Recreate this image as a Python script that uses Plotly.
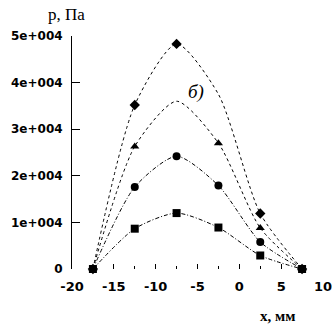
import plotly.graph_objects as go

x_mm = [-17.5, -12.5, -7.5, -2.5, 2.5, 7.5]

# pressure series (Pa)
p_diamond = [0, 35200, 48300, 37500, 11900, 0]
p_triangle = [0, 26300, 36000, 27000, 8800, 0]
p_circle = [0, 17600, 24200, 17900, 5800, 0]
p_square = [0, 8650, 12000, 8900, 2900, 0]

# which points carry a visible marker
show_diamond = [True, True, True, False, True, True]
show_triangle = [True, True, False, True, True, True]
show_circle = [True, True, True, True, True, True]
show_square = [True, True, True, True, True, True]

y_tickvals = [0, 10000, 20000, 30000, 40000, 50000]
y_ticktext = ["0", "1e+004", "2e+004", "3e+004", "4e+004", "5e+004"]
x_tickvals = [-20, -15, -10, -5, 0, 5, 10]
x_ticktext = ["-20", "-15", "-10", "-5", "0", "5", "10"]

series = [
    (p_diamond, show_diamond, "diamond", 8, "dot"),
    (p_triangle, show_triangle, "triangle-up", 8, "dot"),
    (p_circle, show_circle, "circle", 8, "4px,2px,1px,2px"),
    (p_square, show_square, "square", 8, "4px,2px,1px,2px"),
]

fig = go.Figure()
for vals, mask, sym, size, dash in series:
    fig.add_trace(go.Scatter(
        x=x_mm, y=vals, mode="lines",
        line=dict(color="black", width=1, dash=dash, shape="spline", smoothing=0.7),
        cliponaxis=False, showlegend=False, hoverinfo="skip"))
for vals, mask, sym, size, dash in series:
    mx = [x for x, m in zip(x_mm, mask) if m]
    my = [v for v, m in zip(vals, mask) if m]
    fig.add_trace(go.Scatter(
        x=mx, y=my, mode="markers",
        marker=dict(symbol=sym, size=size, color="black", line=dict(width=0)),
        cliponaxis=False, showlegend=False))

fig.update_layout(
    width=332, height=325,
    margin=dict(l=72, r=9, t=36, b=56, autoexpand=False),
    paper_bgcolor="white", plot_bgcolor="white",
    font=dict(family="DejaVu Sans", size=12, color="black"),
    xaxis=dict(range=[-20, 10], tickvals=x_tickvals, ticktext=x_ticktext,
               ticks="inside", ticklen=5, tickcolor="black", tickwidth=1,
               minor=dict(ticks="inside", dtick=2.5, tick0=-20, ticklen=3, tickcolor="black"),
               showline=False, showgrid=False, zeroline=False, automargin=False,
               tickfont=dict(family="DejaVu Sans", size=13, weight="bold"),
               ticklabelstandoff=8, ticklabeloverflow="allow"),
    yaxis=dict(range=[0, 50000], tickvals=y_tickvals, ticktext=y_ticktext,
               ticks="inside", ticklen=8, tickcolor="black", tickwidth=1,
               showline=True, linecolor="black", linewidth=1,
               showgrid=False, zeroline=False, automargin=False,
               tickfont=dict(family="DejaVu Sans", size=12, weight="bold"),
               ticklabelstandoff=6, ticklabeloverflow="allow"),
    annotations=[
        dict(text="p, Па", xref="paper", yref="paper", x=-0.02, y=1.091,
             xanchor="center", yanchor="middle", showarrow=False,
             font=dict(family="Liberation Serif", size=17, color="black")),
        dict(text="х, мм", xref="paper", yref="paper", x=0.817, y=-0.2,
             xanchor="center", yanchor="middle", showarrow=False,
             font=dict(family="Liberation Serif", size=15, color="black", weight="bold")),
        dict(text="<i>б)</i>", x=-5.13, y=37900, xref="x", yref="y",
             xanchor="center", yanchor="middle", showarrow=False,
             font=dict(family="Liberation Serif", size=19, color="black")),
    ],
)

fig.write_html("out.html", config={"displayModeBar": False},
               post_script="document.body.style.margin='0';")
